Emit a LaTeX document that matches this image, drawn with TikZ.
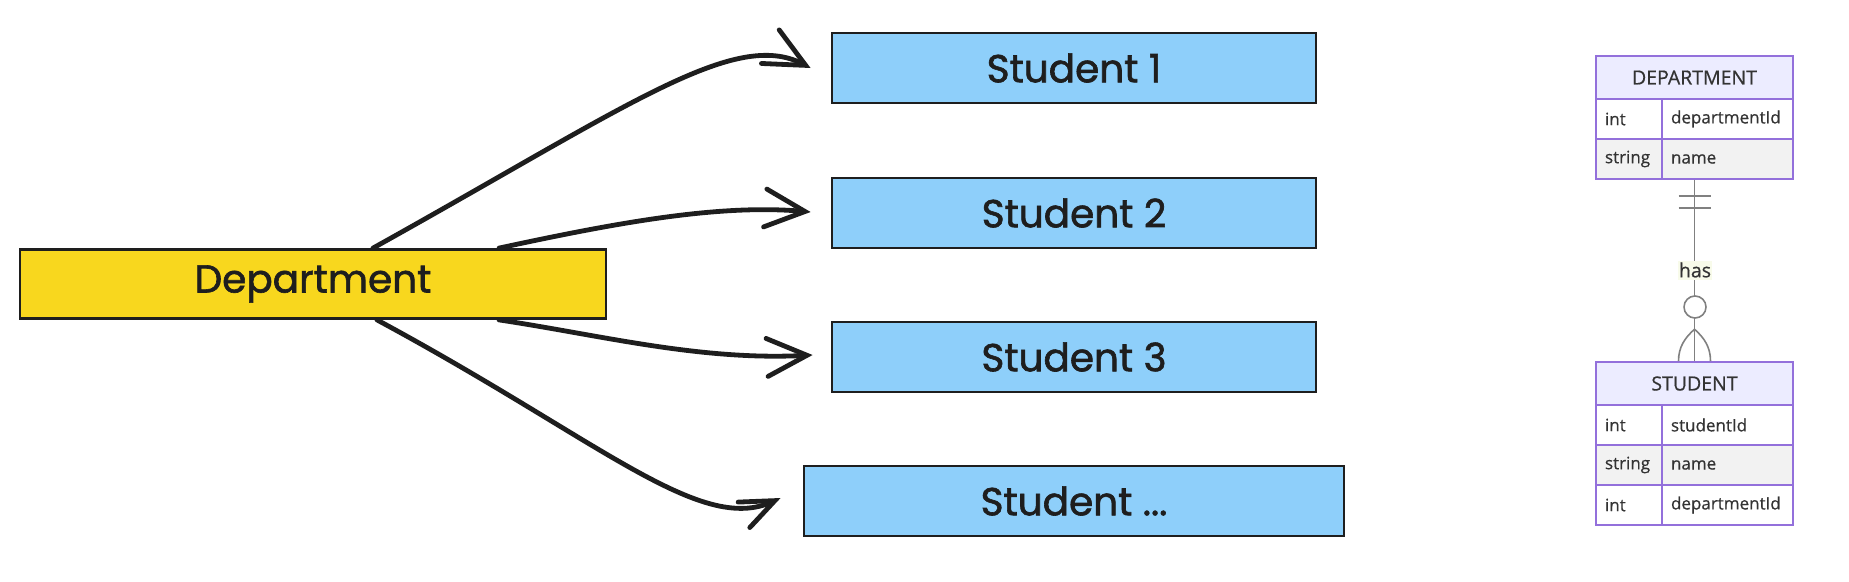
\documentclass[tikz,border=0pt]{standalone}
\usepackage{fontspec}
\newfontfamily\handfont{Poppins}[FakeBold=1.6]
\newfontfamily\erfont{Open Sans}[FakeBold=0.6]
\usetikzlibrary{arrows.meta,calc}
\definecolor{ink}{HTML}{1E1E1E}
\definecolor{depyel}{HTML}{F8D71E}
\definecolor{stublue}{HTML}{8ECFFA}
\definecolor{erpurple}{HTML}{9370DB}
\definecolor{erhead}{HTML}{ECECFF}
\definecolor{errow}{HTML}{F2F2F2}
\definecolor{ertext}{HTML}{333333}
\definecolor{erline}{HTML}{808080}
\definecolor{labelbg}{HTML}{F8FBEA}
\tikzset{
  sketchbox/.style={draw=ink, line width=2.8pt, rectangle, inner sep=0pt, text=ink,
    font=\handfont\fontsize{39}{44}\selectfont},
  depbox/.style={sketchbox, fill=depyel, minimum width=586pt, minimum height=69pt},
  stubox/.style={sketchbox, fill=stublue, minimum width=484pt, minimum height=70pt},
  arr/.style={draw=ink, line width=4.8pt, line cap=round,
    -{Straight Barb[length=40pt,width=38pt,line cap=round]}},
  smallarr/.style={draw=ink, line width=4.8pt, line cap=round,
    -{Straight Barb[length=34pt,width=28pt,line cap=round]}},
  ercell/.style={draw=erpurple, line width=1.6pt, rectangle, text=ertext,
    font=\erfont\fontsize{17}{20}\selectfont, minimum height=40pt, inner ysep=0pt, inner xsep=9pt, align=left},
  typecell/.style={ercell, text width=48pt},
  namecell/.style={ercell, text width=113pt},
  erhd/.style={draw=erpurple, line width=1.6pt, fill=erhead, rectangle, text=ertext,
    font=\erfont\fontsize{19.5}{22}\selectfont, minimum width=197pt, minimum height=43pt, inner sep=0pt},
  erl/.style={draw=erline, line width=1.6pt},
}
\begin{document}
\begin{tikzpicture}[x=1pt,y=-1pt]
\useasboundingbox (0,0) rectangle (1849,581);
% sketch nodes
\node[depbox] (dep) at (313,284) {Department};
\node[stubox] (s1) at (1074,68) {Student 1};
\node[stubox] (s2) at (1074,213) {Student 2};
\node[stubox] (s3) at (1074,357) {Student 3};
\node[stubox, minimum width=540pt] (s4) at (1074,501) {Student ...};
% arrows
\draw[arr] ($(dep.north)+(60,0)$) .. controls (630,105) and (735,28) .. ($(s1.west)+(-20,0)$);
\draw[arr] ($(dep.north)+(186,0)$) .. controls (620,222) and (720,204) .. ($(s2.west)+(-20,-1)$);
\draw[arr] ($(dep.south)+(186,0)$) .. controls (600,335) and (700,361) .. ($(s3.west)+(-18,-2)$);
\draw[smallarr] ($(dep.south)+(64,0)$) .. controls (600,440) and (700,535) .. ($(s4.west)+(-22,-3)$);
% ER: DEPARTMENT
\node[erhd] (dh) at (1694.5,77.5) {DEPARTMENT};
\node[typecell, fill=white] (dt1) at (1629,119) {int};
\node[namecell, fill=white] (dn1) at (1727.5,119) {departmentId};
\node[typecell, fill=errow] (dt2) at (1629,159) {string};
\node[namecell, fill=errow] (dn2) at (1727.5,159) {name};
\node[draw=erpurple, line width=1.6pt, minimum width=197pt, minimum height=123pt, inner sep=0pt] (dept) at (1694.5,117.5) {};
% ER: STUDENT
\node[erhd] (sh) at (1694.5,383.5) {STUDENT};
\node[typecell, fill=white] (st1) at (1629,425) {int};
\node[namecell, fill=white] (sn1) at (1727.5,425) {studentId};
\node[typecell, fill=errow] (st2) at (1629,465) {string};
\node[namecell, fill=errow] (sn2) at (1727.5,465) {name};
\node[typecell, fill=white] (st3) at (1629,505) {int};
\node[namecell, fill=white] (sn3) at (1727.5,505) {departmentId};
\node[draw=erpurple, line width=1.6pt, minimum width=197pt, minimum height=163pt, inner sep=0pt] (stu) at (1694.5,443.5) {};
% relationship
\draw[erl] (dept.south) -- (stu.north);
\draw[erl] ($(dept.south)+(-16,16)$) -- ($(dept.south)+(16,16)$);
\draw[erl] ($(dept.south)+(-16,28)$) -- ($(dept.south)+(16,28)$);
\node[fill=labelbg, text=ertext, font=\erfont\fontsize{19.5}{22}\selectfont, inner xsep=1pt, inner ysep=2pt] (has) at (1695,270) {has};
\node[circle, draw=erline, line width=1.6pt, fill=white, minimum size=22pt, inner sep=0pt] (crow) at (1695,307) {};
\coordinate (cf) at ($(stu.north)+(0,-32)$);
\draw[erl] (cf) .. controls ($(cf)+(-10,9)$) and ($(stu.north)+(-16,-14)$) .. ($(stu.north)+(-16,0)$);
\draw[erl] (cf) .. controls ($(cf)+(10,9)$) and ($(stu.north)+(16,-14)$) .. ($(stu.north)+(16,0)$);
\end{tikzpicture}
\end{document}
